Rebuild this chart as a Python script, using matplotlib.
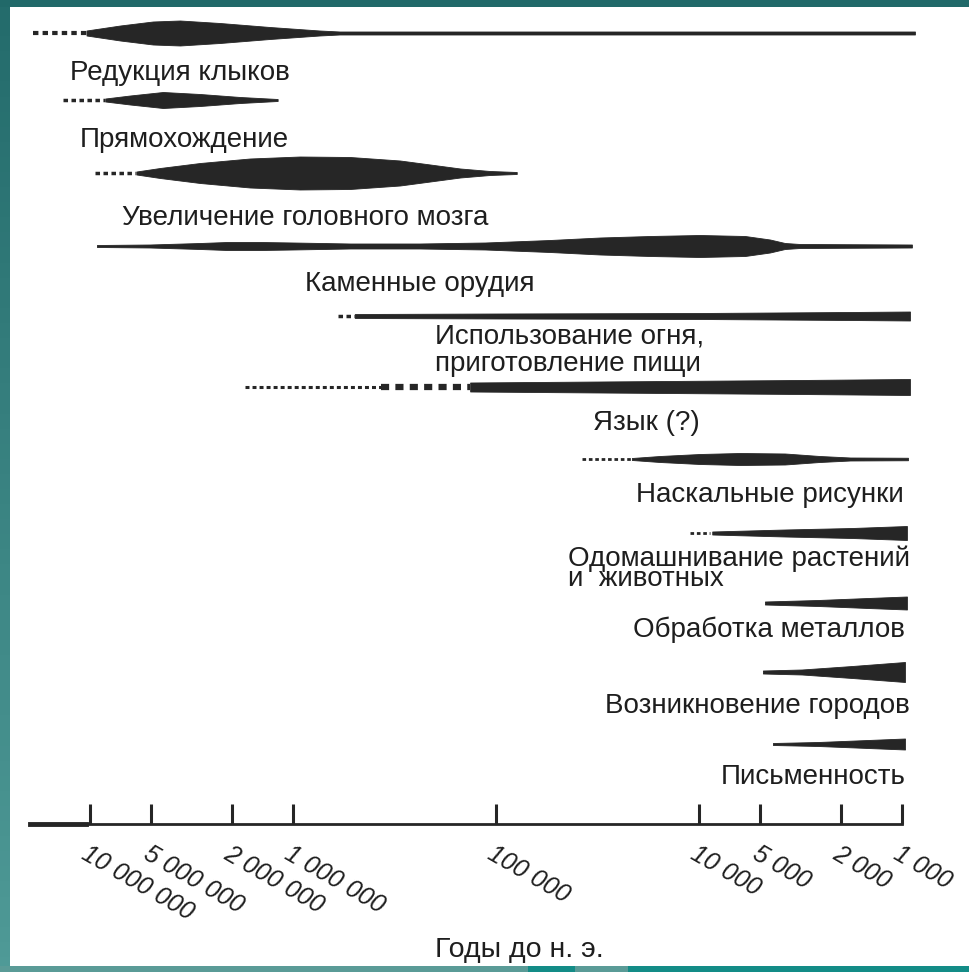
import numpy as np
import matplotlib
matplotlib.use('Agg')
import matplotlib.pyplot as plt
from matplotlib import font_manager
from matplotlib.patches import Rectangle
from matplotlib.transforms import blended_transform_factory

# --- данные: годы до н. э. ---
labels = ["Редукция клыков", "Прямохождение", "Увеличение головного мозга",
          "Каменные орудия", "Использование огня,\nприготовление пищи", "Язык (?)",
          "Наскальные рисунки", "Одомашнивание растений\nи  животных",
          "Обработка металлов", "Возникновение городов", "Письменность"]

# пунктирное (предположительное) начало: (от, до, толщина линии)
dotted = [
    [(1.91e7, 1.04e7, 3.0)],
    [(1.36e7, 8.4e6, 2.5)],
    [(9.45e6, 5.9e6, 2.5)],
    [],
    [(6.0e5, 4.95e5, 2.5)],
    [(1.72e6, 3.7e5, 2.2), (3.7e5, 1.34e5, 4.5)],
    [(3.77e4, 2.14e4, 2.0)],
    [(1.11e4, 8.8e3, 2.0)],
    [],
    [],
    [],
]

# толщина полосы (px) в опорных точках
years_teeth = [1.04e7, 7.1e6, 4.9e6, 3.6e6, 2.29e6, 1.3e6, 7.4e5, 5.9e5, 9.6e4, 863]
width_teeth = [5, 15, 23, 25, 20, 12, 5, 3, 3, 3]

years_walk = [8.4e6, 6.35e6, 4.37e6, 2.87e6, 1.82e6, 1.19e6]
width_walk = [3, 9, 16, 12, 6, 2]

years_brain = [5.9e6, 4.52e6, 2.87e6, 1.63e6, 9.24e5, 5.24e5, 2.97e5, 2.11e5, 1.5e5, 1.07e5, 7.9e4]
width_brain = [3, 10, 20, 29, 33, 32, 25, 17, 9, 4, 2]

years_stone = [9.24e6, 5.06e6, 2.87e6, 2.11e6, 1.45e6, 1.0e6, 5.24e5, 2.37e5, 1.13e5,
               5.42e4, 3.07e4, 1.74e4, 9.89e3, 5.93e3, 4.47e3, 3.77e3, 3.18e3, 893]
width_stone = [2, 3, 6, 8, 8, 7, 5, 5, 7, 12, 17, 20, 22, 20, 13, 6, 4, 3]

years_fire = [4.95e5, 9.56e4, 9.89e3, 1.8e3, 913]
width_fire = [4, 5, 6, 8, 9]

years_lang = [1.34e5, 3.07e4, 3.18e3, 913]
width_lang = [9, 11, 14, 16]

years_art = [2.14e4, 1.56e4, 9.89e3, 6.28e3, 3.77e3, 2.54e3, 1.8e3, 934]
width_art = [2, 6, 10, 12, 11, 6, 3, 2.5]

years_domest = [8.6e3, 3.77e3, 1.76e3, 945]
width_domest = [3, 7, 10, 14]

years_metal = [4.73e3, 2.59e3, 1.47e3, 945]
width_metal = [3, 6, 10, 13]

years_city = [4.84e3, 3.11e3, 1.76e3, 1.21e3, 966]
width_city = [3, 5, 12, 17, 20]

years_write = [4.32e3, 2.59e3, 1.47e3, 966]
width_write = [2, 4, 8, 11]

band_years = [years_teeth, years_walk, years_brain, years_stone, years_fire, years_lang,
              years_art, years_domest, years_metal, years_city, years_write]
band_widths = [width_teeth, width_walk, width_brain, width_stone, width_fire, width_lang,
               width_art, width_domest, width_metal, width_city, width_write]

tick_years = [1e7, 5e6, 2e6, 1e6, 1e5, 1e4, 5e3, 2e3, 1e3]
tick_labels = ["10 000 000", "5 000 000", "2 000 000", "1 000 000", "100 000",
               "10 000", "5 000", "2 000", "1 000"]
axis_span = (1.98e7, 1.0e3)
axis_title = "Годы до н. э."

# --- раскладка (px сверху) ---
band_y = [33, 100, 173, 246, 316, 387, 459, 533, 603, 672, 744]
label_x = [70, 80, 122, 305, 435, 593, 904, 568, 905, 910, 906]
label_y = [80, 147, 225, 291, 323, 430, 502, 545, 637, 713, 784]
label_ha = ['left'] * 6 + ['right', 'left', 'right', 'right', 'right']
label_va = ['baseline'] * 4 + ['top', 'baseline', 'baseline', 'top'] + ['baseline'] * 3
label_ls = [1.0, 1.0, 1.0, 1.0, 1.12, 1.0, 1.0, 0.7, 1.0, 1.0, 1.0]

INK = '#262626'
W, H = 970, 972

names = {f.name for f in font_manager.fontManager.ttflist}
narrow = 'Liberation Sans Narrow' if 'Liberation Sans Narrow' in names else None

plt.rcParams['font.family'] = ['Liberation Sans', 'DejaVu Sans']

fig = plt.figure(figsize=(W / 100, H / 100), dpi=100, facecolor='white')
ax = fig.add_axes([0, 0, 1, 1])
ax.set_xscale('log')
ax.set_xlim(2.775e7, 462)
ax.set_ylim(H, 0)
ax.set_axis_off()

# полосы
for yc, xs, ws, dots in zip(band_y, band_years, band_widths, dotted):
    xs = np.array(xs)
    ws = np.array(ws, dtype=float)
    ax.fill_between(xs, yc - ws / 2, yc + ws / 2, color=INK, lw=0.6, edgecolor=INK)
    for a, b, lw in dots:
        ax.plot([a, b], [yc, yc], color=INK, lw=lw, ls=(0, (1.3, 1.0)))

# подписи
tr = blended_transform_factory(ax.transAxes, ax.transData)
for txt, x, y, ha, va, ls in zip(labels, label_x, label_y, label_ha, label_va, label_ls):
    ax.text(x / W, y, txt, transform=tr, ha=ha, va=va, fontsize=20,
            color='#1e1e1e', linespacing=ls)

# ось времени
ax.plot(axis_span, [824, 824], color=INK, lw=2)
ax.plot([axis_span[0], 1.05e7], [824, 824], color=INK, lw=3.5)
ax.vlines(tick_years, 804, 824, color=INK, lw=2.2)
for t, s in zip(tick_years, tick_labels):
    ax.text(t, 842, s, ha='left', va='top', rotation=-30, rotation_mode='anchor',
            fontsize=18, style='italic', color='#1e1e1e')

if narrow:
    ax.text(435 / W, 957, axis_title, transform=tr, ha='left', va='baseline',
            fontsize=26, family=narrow, color='#1e1e1e')
else:
    ax.text(435 / W, 957, axis_title, transform=tr, ha='left', va='baseline',
            fontsize=20.5, color='#1e1e1e')

# бирюзовая рамка слайда
fig.add_artist(Rectangle((0, 1 - 7 / H), 1, 7 / H, transform=fig.transFigure,
                         color='#216969', lw=0))
fig.add_artist(Rectangle((0, 0), 1, 6 / H, transform=fig.transFigure,
                         color='#5a9b97', lw=0))
fig.add_artist(Rectangle((528 / W, 0), 47 / W, 6 / H, transform=fig.transFigure,
                         color='#138c87', lw=0))
fig.add_artist(Rectangle((628 / W, 0), 342 / W, 6 / H, transform=fig.transFigure,
                         color='#138c87', lw=0))
gax = fig.add_axes([0, 0, 10 / W, 1 - 7 / H])
gax.imshow(np.linspace(0, 1, 64).reshape(-1, 1), aspect='auto',
           cmap=matplotlib.colors.LinearSegmentedColormap.from_list('t', ['#246c6c', '#4f9a97']))
gax.set_axis_off()

fig.savefig('out.png', dpi=100, facecolor='white')
